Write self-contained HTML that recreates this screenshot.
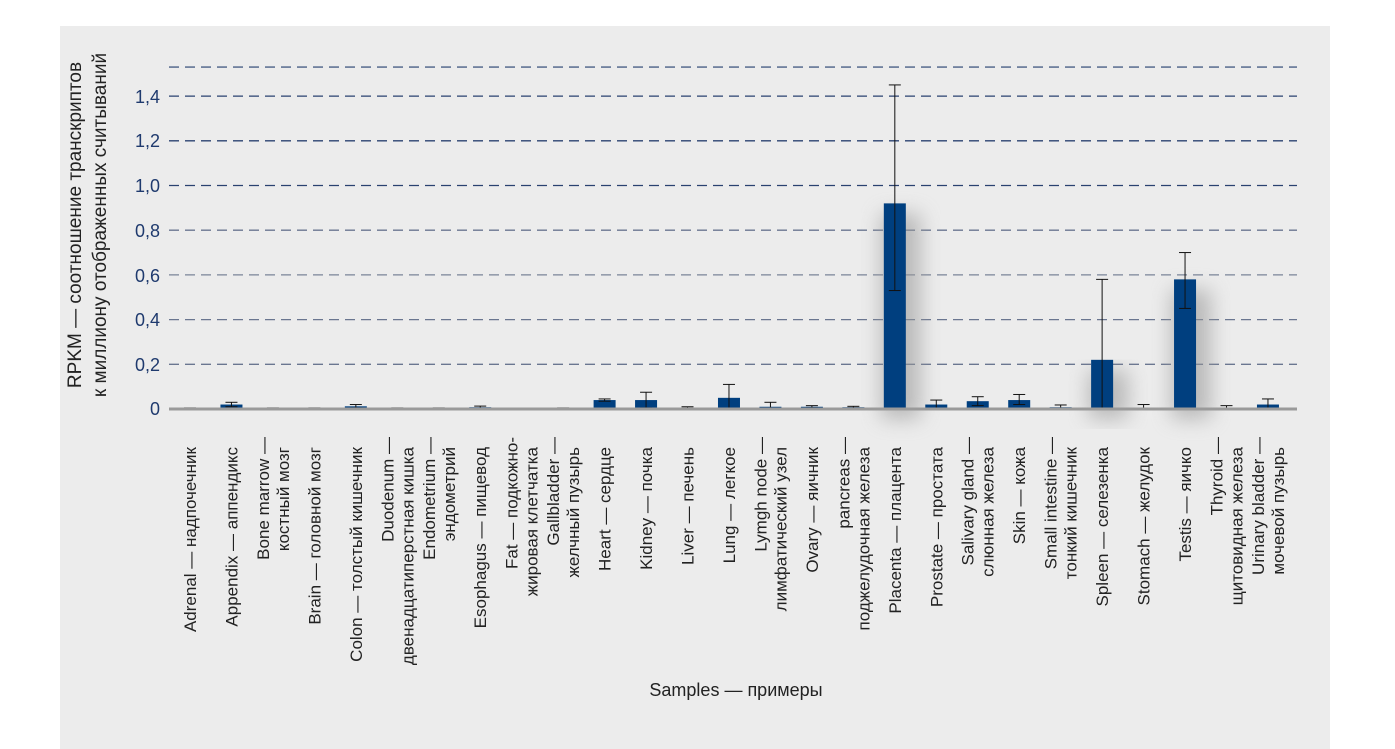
<!DOCTYPE html>
<html><head><meta charset="utf-8"><style>
html,body{margin:0;padding:0;background:#fff;}
svg{display:block;}
text{font-family:"Liberation Sans Narrow","Liberation Sans","Noto Sans CJK SC",sans-serif;}
</style></head><body>
<svg id="s" width="1395" height="749" xmlns="http://www.w3.org/2000/svg">
<defs><filter id="sh" x="-50%" y="-20%" width="200%" height="140%"><feGaussianBlur stdDeviation="10"/></filter></defs>
<rect x="60" y="26" width="1270" height="723" fill="#ececec"/>
<g id="grid"></g>
<g id="bars"></g>
<rect x="169" y="407.5" width="1128" height="3" fill="#9a9a9a"/>
<g id="labels" fill="#222" font-size="17"></g>
<g fill="#1f3a6e" font-size="18" text-anchor="end">
<text x="160" y="103">1,4</text><text x="160" y="147">1,2</text><text x="160" y="192">1,0</text>
<text x="160" y="237">0,8</text><text x="160" y="282">0,6</text><text x="160" y="326">0,4</text>
<text x="160" y="371">0,2</text><text x="160" y="415">0</text>
</g>
<g fill="#222" font-size="19" text-anchor="middle">
<text transform="translate(81,225) rotate(-90)">RPKM — соотношение транскриптов</text>
<text transform="translate(106,225) rotate(-90)">к миллиону отображенных считываний</text>
</g>
<text x="736" y="696" font-size="18" fill="#222" text-anchor="middle">Samples — примеры</text>
</svg>
<script>
var NS="http://www.w3.org/2000/svg";
function el(p,t,a,txt){var e=document.createElementNS(NS,t);for(var k in a)e.setAttribute(k,a[k]);if(txt)e.textContent=txt;p.appendChild(e);return e;}
var g=document.getElementById('grid');
[[1.53,"#4a5f85"],[1.4,"#2a4270"],[1.2,"#2a4270"],[1.0,"#2a4270"],[0.8,"#6a7690"],[0.6,"#7a8498"],[0.4,"#6a7690"],[0.2,"#6a7690"]].forEach(function(d){
var y=409-223.5*d[0];el(g,'line',{x1:169,x2:1297,y1:y,y2:y,stroke:d[1],'stroke-width':1.3,'stroke-dasharray':'10,6'});});
var data=[
["Adrenal — надпочечник","",0,0,0.005],
["Appendix — аппендикс","",0.02,0.01,0.03],
["Bone marrow —","костный мозг",0,0,0.005],
["Brain — головной мозг","",0,0,0.005],
["Colon — толстый кишечник","",0.012,0.005,0.02],
["Duodenum —","двенадцатиперстная кишка",0,0,0.005],
["Endometrium —","эндометрий",0,0,0.005],
["Esophagus — пищевод","",0.008,0.003,0.013],
["Fat — подкожно-","жировая клетчатка",0.003,0,0.003],
["Gallbladder —","желчный пузырь",0,0,0.005],
["Heart — сердце","",0.04,0.035,0.045],
["Kidney — почка","",0.04,0.005,0.075],
["Liver — печень","",0,0,0.01],
["Lung — легкое","",0.05,0,0.11],
["Lymgh node —","лимфатический узел",0.01,0,0.03],
["Ovary — яичник","",0.01,0.005,0.015],
["pancreas —","поджелудочная железа",0.008,0.005,0.012],
["Placenta — плацента","",0.92,0.53,1.45],
["Prostate — простата","",0.02,0,0.04],
["Salivary gland —","слюнная железа",0.035,0.015,0.055],
["Skin — кожа","",0.04,0.02,0.065],
["Small intestine —","тонкий кишечник",0.008,0,0.018],
["Spleen — селезенка","",0.22,0,0.58],
["Stomach — желудок","",0.005,0,0.02],
["Testis — яичко","",0.58,0.45,0.70],
["Thyroid —","щитовидная железа",0.005,0,0.015],
["Urinary bladder —","мочевой пузырь",0.02,0,0.045]];
var b=document.getElementById('bars'),L=document.getElementById('labels');
data.forEach(function(d,i){
var c=190+41.46*i,Y=function(v){return 409-223.5*v;};
if(d[2]>0.1) el(b,'rect',{x:c-14,y:Y(d[2])+10,width:40,height:409-Y(d[2]),fill:'#999',opacity:0.6,filter:'url(#sh)'});
if(d[2]>0) el(b,'rect',{x:c-11,y:Y(d[2]),width:22,height:409-Y(d[2]),fill:'#003f7f'});
var y1=Y(d[3]),y2=Y(d[4]);
el(b,'line',{x1:c,x2:c,y1:y1,y2:y2,stroke:'#111','stroke-width':1});
el(b,'line',{x1:c-6,x2:c+6,y1:y2,y2:y2,stroke:'#111','stroke-width':1});
if(d[3]>0) el(b,'line',{x1:c-6,x2:c+6,y1:y1,y2:y1,stroke:'#111','stroke-width':1});
if(d[1]){
el(L,'text',{transform:'translate('+(c-4)+',437) rotate(-90)','text-anchor':'end'},d[0]);
el(L,'text',{transform:'translate('+(c+16)+',447) rotate(-90)','text-anchor':'end'},d[1]);
}else el(L,'text',{transform:'translate('+(c+6)+',447) rotate(-90)','text-anchor':'end'},d[0]);
});
</script>
</body></html>
